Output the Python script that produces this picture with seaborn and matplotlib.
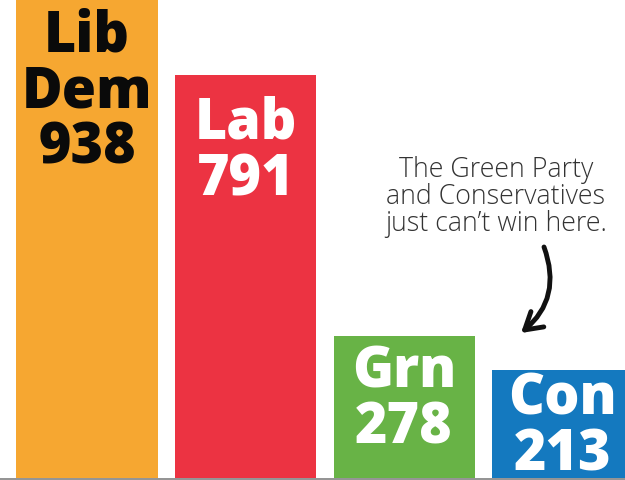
import matplotlib
matplotlib.use("Agg")
import matplotlib.pyplot as plt
import seaborn as sns
import pandas as pd

# Data
parties = ["Lib Dem", "Lab", "Grn", "Con"]
labels = ["Lib\nDem", "Lab", "Grn", "Con"]
votes = [938, 791, 278, 213]
colors = ["#F6A731", "#EC3342", "#68B346", "#1479BF"]
text_colors = ["#0A0A0A", "#FFFFFF", "#FFFFFF", "#FFFFFF"]
note = "The Green Party\nand Conservatives\njust can\u2019t win here."

sns.set_theme(style="white")
plt.rcParams['font.family'] = ['Open Sans', 'DejaVu Sans']

df = pd.DataFrame({"party": parties, "votes": votes})

fig = plt.figure(figsize=(6.25, 4.8), dpi=100)
ax = fig.add_axes([0, 0, 1, 1])
sns.barplot(data=df, x="party", y="votes", hue="party", palette=colors,
            order=parties, hue_order=parties, width=0.89, legend=False,
            saturation=1, ax=ax, zorder=2, linewidth=0, edgecolor="none")

ax.set_xlim(-0.549, 3.394)
ax.set_ylim(-3.6, 938)
ax.axhline(-1.2, color="#8a8a8a", lw=1.3, zorder=3)
ax.set_axis_off()

offsets = [8, 21, 8, 2]
for i, (lab, v, tc, off) in enumerate(zip(labels, votes, text_colors, offsets)):
    ax.annotate(f"{lab}\n{v}", xy=(i, v), xytext=(0, -off),
                textcoords="offset pixels", ha="center", va="top",
                fontsize=40, fontweight="heavy", color=tc,
                linespacing=0.98, zorder=4)

fig.text(496 / 625, 1 - 156 / 480, note, ha="center", va="top",
         fontsize=19.3, fontweight="light", color="#333333", linespacing=0.95)

ax.annotate("", xy=(521 / 625, 1 - 333 / 480), xycoords="figure fraction",
            xytext=(544 / 625, 1 - 247 / 480), textcoords="figure fraction",
            arrowprops=dict(arrowstyle="->,head_length=1.0,head_width=0.6",
                            connectionstyle="arc3,rad=-0.35",
                            lw=3.5, color="#111111", shrinkA=0, shrinkB=0))

fig.savefig("out.png", dpi=100)
